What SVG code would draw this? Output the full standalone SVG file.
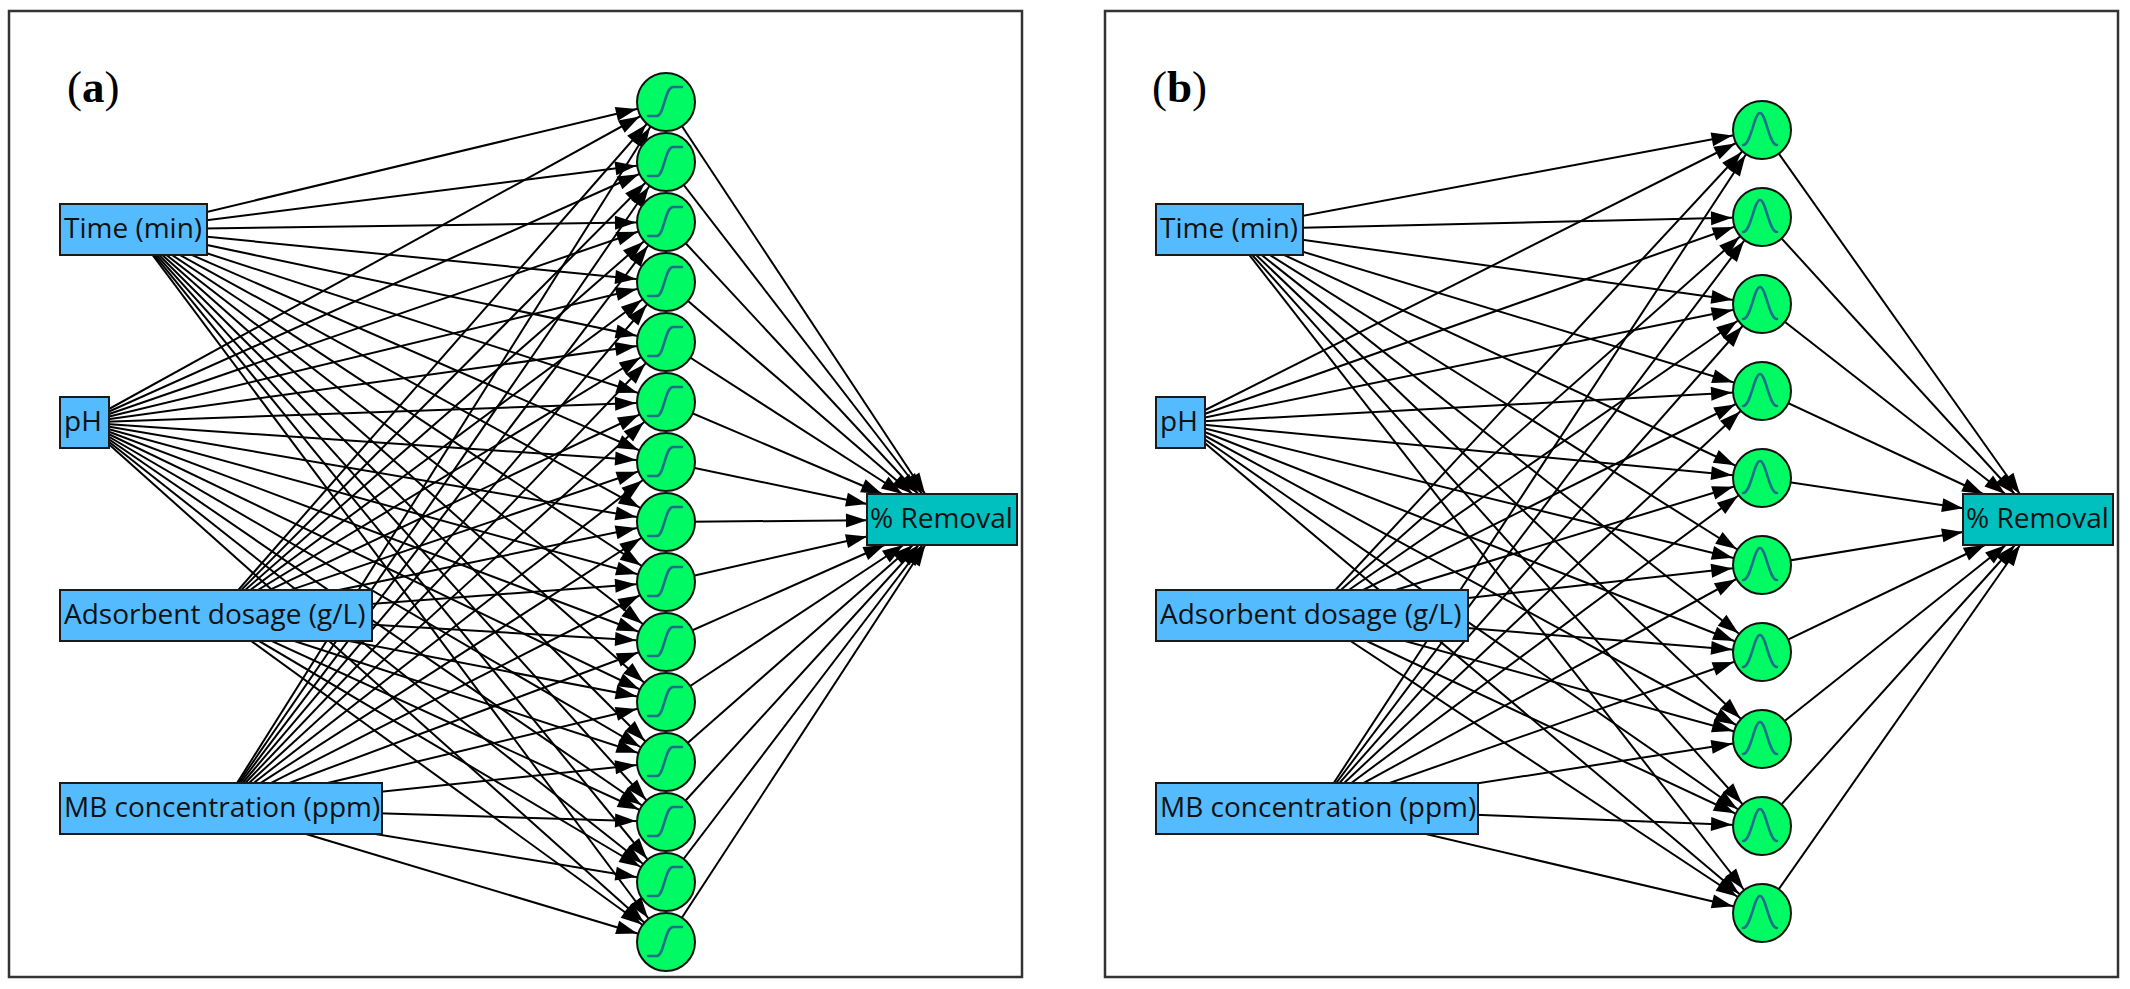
<svg xmlns="http://www.w3.org/2000/svg" xmlns:xlink="http://www.w3.org/1999/xlink" width="2130" height="989" viewBox="0 0 2130 989">
<style>
.frame{fill:#fff;stroke:#333;stroke-width:2.5}
.inp{fill:#55BBFF;stroke:#1a1a1a;stroke-width:2}
.out{fill:#00BFBF;stroke:#1a1a1a;stroke-width:2}
.hid{fill:#00FA64;stroke:#111;stroke-width:2}
.gl{fill:none;stroke:#1F6F8B;stroke-width:2.6;stroke-linecap:round;stroke-linejoin:round}
.lbl{font-family:"Open Sans","Noto Sans","DejaVu Sans",sans-serif;font-size:28px;fill:#111}
.pl{font-family:"Liberation Serif","Times New Roman",serif;font-size:45px;fill:#000}
#conn line{stroke:#000;stroke-width:2}
.e1{marker-end:url(#ah)}
.e2{marker-end:url(#ah2)}
</style>
<defs>
<marker id="ah" viewBox="-60 -10 70 20" markerWidth="70" markerHeight="20" refX="0" refY="0" orient="auto" markerUnits="userSpaceOnUse" overflow="visible"><path d="M-30,0 L-51,-7 L-51,7 z" fill="#000"/></marker>
<marker id="ah2" viewBox="-30 -10 40 20" markerWidth="40" markerHeight="20" refX="0" refY="0" orient="auto" markerUnits="userSpaceOnUse" overflow="visible"><path d="M0,0 L-21,-7 L-21,7 z" fill="#000"/></marker>
<path id="sg" class="gl" d="M-18,14 H-9 C-2,14 -1,-15 7,-15 H16"/>
<path id="gs" class="gl" d="M-19,15 C-11,15 -8,-17 -2,-17 C4,-17 7,15 15,15"/>
</defs>
<rect width="2130" height="989" fill="#fff"/>
<g id="frames">
<rect class="frame" x="9" y="11" width="1013" height="966"/>
<rect class="frame" x="1105" y="11" width="1013" height="966"/>
<text class="pl" x="67" y="102">(<tspan font-weight="bold">a</tspan>)</text>
<text class="pl" x="1152" y="102">(<tspan font-weight="bold">b</tspan>)</text>
</g>
<g id="conn">
<line class="e1" x1="133.5" y1="229.5" x2="666" y2="102"/>
<line class="e1" x1="133.5" y1="229.5" x2="666" y2="162"/>
<line class="e1" x1="133.5" y1="229.5" x2="666" y2="222"/>
<line class="e1" x1="133.5" y1="229.5" x2="666" y2="282"/>
<line class="e1" x1="133.5" y1="229.5" x2="666" y2="342"/>
<line class="e1" x1="133.5" y1="229.5" x2="666" y2="402"/>
<line class="e1" x1="133.5" y1="229.5" x2="666" y2="462"/>
<line class="e1" x1="133.5" y1="229.5" x2="666" y2="522"/>
<line class="e1" x1="133.5" y1="229.5" x2="666" y2="582"/>
<line class="e1" x1="133.5" y1="229.5" x2="666" y2="642"/>
<line class="e1" x1="133.5" y1="229.5" x2="666" y2="702"/>
<line class="e1" x1="133.5" y1="229.5" x2="666" y2="762"/>
<line class="e1" x1="133.5" y1="229.5" x2="666" y2="822"/>
<line class="e1" x1="133.5" y1="229.5" x2="666" y2="882"/>
<line class="e1" x1="133.5" y1="229.5" x2="666" y2="942"/>
<line class="e1" x1="84.5" y1="422.5" x2="666" y2="102"/>
<line class="e1" x1="84.5" y1="422.5" x2="666" y2="162"/>
<line class="e1" x1="84.5" y1="422.5" x2="666" y2="222"/>
<line class="e1" x1="84.5" y1="422.5" x2="666" y2="282"/>
<line class="e1" x1="84.5" y1="422.5" x2="666" y2="342"/>
<line class="e1" x1="84.5" y1="422.5" x2="666" y2="402"/>
<line class="e1" x1="84.5" y1="422.5" x2="666" y2="462"/>
<line class="e1" x1="84.5" y1="422.5" x2="666" y2="522"/>
<line class="e1" x1="84.5" y1="422.5" x2="666" y2="582"/>
<line class="e1" x1="84.5" y1="422.5" x2="666" y2="642"/>
<line class="e1" x1="84.5" y1="422.5" x2="666" y2="702"/>
<line class="e1" x1="84.5" y1="422.5" x2="666" y2="762"/>
<line class="e1" x1="84.5" y1="422.5" x2="666" y2="822"/>
<line class="e1" x1="84.5" y1="422.5" x2="666" y2="882"/>
<line class="e1" x1="84.5" y1="422.5" x2="666" y2="942"/>
<line class="e1" x1="216" y1="615.5" x2="666" y2="102"/>
<line class="e1" x1="216" y1="615.5" x2="666" y2="162"/>
<line class="e1" x1="216" y1="615.5" x2="666" y2="222"/>
<line class="e1" x1="216" y1="615.5" x2="666" y2="282"/>
<line class="e1" x1="216" y1="615.5" x2="666" y2="342"/>
<line class="e1" x1="216" y1="615.5" x2="666" y2="402"/>
<line class="e1" x1="216" y1="615.5" x2="666" y2="462"/>
<line class="e1" x1="216" y1="615.5" x2="666" y2="522"/>
<line class="e1" x1="216" y1="615.5" x2="666" y2="582"/>
<line class="e1" x1="216" y1="615.5" x2="666" y2="642"/>
<line class="e1" x1="216" y1="615.5" x2="666" y2="702"/>
<line class="e1" x1="216" y1="615.5" x2="666" y2="762"/>
<line class="e1" x1="216" y1="615.5" x2="666" y2="822"/>
<line class="e1" x1="216" y1="615.5" x2="666" y2="882"/>
<line class="e1" x1="216" y1="615.5" x2="666" y2="942"/>
<line class="e1" x1="221" y1="808.5" x2="666" y2="102"/>
<line class="e1" x1="221" y1="808.5" x2="666" y2="162"/>
<line class="e1" x1="221" y1="808.5" x2="666" y2="222"/>
<line class="e1" x1="221" y1="808.5" x2="666" y2="282"/>
<line class="e1" x1="221" y1="808.5" x2="666" y2="342"/>
<line class="e1" x1="221" y1="808.5" x2="666" y2="402"/>
<line class="e1" x1="221" y1="808.5" x2="666" y2="462"/>
<line class="e1" x1="221" y1="808.5" x2="666" y2="522"/>
<line class="e1" x1="221" y1="808.5" x2="666" y2="582"/>
<line class="e1" x1="221" y1="808.5" x2="666" y2="642"/>
<line class="e1" x1="221" y1="808.5" x2="666" y2="702"/>
<line class="e1" x1="221" y1="808.5" x2="666" y2="762"/>
<line class="e1" x1="221" y1="808.5" x2="666" y2="822"/>
<line class="e1" x1="221" y1="808.5" x2="666" y2="882"/>
<line class="e1" x1="221" y1="808.5" x2="666" y2="942"/>
<line class="e2" x1="666" y1="102" x2="925.1" y2="494"/>
<line class="e2" x1="666" y1="162" x2="922.3" y2="494"/>
<line class="e2" x1="666" y1="222" x2="918.3" y2="494"/>
<line class="e2" x1="666" y1="282" x2="912.4" y2="494"/>
<line class="e2" x1="666" y1="342" x2="902.4" y2="494"/>
<line class="e2" x1="666" y1="402" x2="882.1" y2="494"/>
<line class="e2" x1="666" y1="462" x2="867" y2="503.9"/>
<line class="e2" x1="666" y1="522" x2="867" y2="520.2"/>
<line class="e2" x1="666" y1="582" x2="867" y2="536.5"/>
<line class="e2" x1="666" y1="642" x2="884.5" y2="545"/>
<line class="e2" x1="666" y1="702" x2="903.4" y2="545"/>
<line class="e2" x1="666" y1="762" x2="913" y2="545"/>
<line class="e2" x1="666" y1="822" x2="918.7" y2="545"/>
<line class="e2" x1="666" y1="882" x2="922.6" y2="545"/>
<line class="e2" x1="666" y1="942" x2="925.3" y2="545"/>
<line class="e1" x1="1229.5" y1="229.5" x2="1762" y2="130"/>
<line class="e1" x1="1229.5" y1="229.5" x2="1762" y2="217"/>
<line class="e1" x1="1229.5" y1="229.5" x2="1762" y2="304"/>
<line class="e1" x1="1229.5" y1="229.5" x2="1762" y2="391"/>
<line class="e1" x1="1229.5" y1="229.5" x2="1762" y2="478"/>
<line class="e1" x1="1229.5" y1="229.5" x2="1762" y2="565"/>
<line class="e1" x1="1229.5" y1="229.5" x2="1762" y2="652"/>
<line class="e1" x1="1229.5" y1="229.5" x2="1762" y2="739"/>
<line class="e1" x1="1229.5" y1="229.5" x2="1762" y2="826"/>
<line class="e1" x1="1229.5" y1="229.5" x2="1762" y2="913"/>
<line class="e1" x1="1180.5" y1="422.5" x2="1762" y2="130"/>
<line class="e1" x1="1180.5" y1="422.5" x2="1762" y2="217"/>
<line class="e1" x1="1180.5" y1="422.5" x2="1762" y2="304"/>
<line class="e1" x1="1180.5" y1="422.5" x2="1762" y2="391"/>
<line class="e1" x1="1180.5" y1="422.5" x2="1762" y2="478"/>
<line class="e1" x1="1180.5" y1="422.5" x2="1762" y2="565"/>
<line class="e1" x1="1180.5" y1="422.5" x2="1762" y2="652"/>
<line class="e1" x1="1180.5" y1="422.5" x2="1762" y2="739"/>
<line class="e1" x1="1180.5" y1="422.5" x2="1762" y2="826"/>
<line class="e1" x1="1180.5" y1="422.5" x2="1762" y2="913"/>
<line class="e1" x1="1312" y1="615.5" x2="1762" y2="130"/>
<line class="e1" x1="1312" y1="615.5" x2="1762" y2="217"/>
<line class="e1" x1="1312" y1="615.5" x2="1762" y2="304"/>
<line class="e1" x1="1312" y1="615.5" x2="1762" y2="391"/>
<line class="e1" x1="1312" y1="615.5" x2="1762" y2="478"/>
<line class="e1" x1="1312" y1="615.5" x2="1762" y2="565"/>
<line class="e1" x1="1312" y1="615.5" x2="1762" y2="652"/>
<line class="e1" x1="1312" y1="615.5" x2="1762" y2="739"/>
<line class="e1" x1="1312" y1="615.5" x2="1762" y2="826"/>
<line class="e1" x1="1312" y1="615.5" x2="1762" y2="913"/>
<line class="e1" x1="1317" y1="808.5" x2="1762" y2="130"/>
<line class="e1" x1="1317" y1="808.5" x2="1762" y2="217"/>
<line class="e1" x1="1317" y1="808.5" x2="1762" y2="304"/>
<line class="e1" x1="1317" y1="808.5" x2="1762" y2="391"/>
<line class="e1" x1="1317" y1="808.5" x2="1762" y2="478"/>
<line class="e1" x1="1317" y1="808.5" x2="1762" y2="565"/>
<line class="e1" x1="1317" y1="808.5" x2="1762" y2="652"/>
<line class="e1" x1="1317" y1="808.5" x2="1762" y2="739"/>
<line class="e1" x1="1317" y1="808.5" x2="1762" y2="826"/>
<line class="e1" x1="1317" y1="808.5" x2="1762" y2="913"/>
<line class="e2" x1="1762" y1="130" x2="2019.9" y2="494"/>
<line class="e2" x1="1762" y1="217" x2="2014.7" y2="494"/>
<line class="e2" x1="1762" y1="304" x2="2005.3" y2="494"/>
<line class="e2" x1="1762" y1="391" x2="1983.2" y2="494"/>
<line class="e2" x1="1762" y1="478" x2="1963" y2="508.2"/>
<line class="e2" x1="1762" y1="565" x2="1963" y2="531.9"/>
<line class="e2" x1="1762" y1="652" x2="1984.9" y2="545"/>
<line class="e2" x1="1762" y1="739" x2="2005.9" y2="545"/>
<line class="e2" x1="1762" y1="826" x2="2015" y2="545"/>
<line class="e2" x1="1762" y1="913" x2="2020.1" y2="545"/>
</g>
<g id="a_time"><rect class="inp" x="60" y="204" width="147" height="51"/><text class="lbl" x="64" y="238">Time (min)</text></g>
<g id="a_ph"><rect class="inp" x="60" y="397" width="49" height="51"/><text class="lbl" x="64" y="431">pH</text></g>
<g id="a_ads"><rect class="inp" x="60" y="590" width="312" height="51"/><text class="lbl" x="64" y="624">Adsorbent dosage (g/L)</text></g>
<g id="a_mb"><rect class="inp" x="60" y="783" width="322" height="51"/><text class="lbl" x="64" y="817">MB concentration (ppm)</text></g>
<g id="a_h1"><circle class="hid" cx="666" cy="102" r="29"/><use xlink:href="#sg" x="666" y="102"/></g>
<g id="a_h2"><circle class="hid" cx="666" cy="162" r="29"/><use xlink:href="#sg" x="666" y="162"/></g>
<g id="a_h3"><circle class="hid" cx="666" cy="222" r="29"/><use xlink:href="#sg" x="666" y="222"/></g>
<g id="a_h4"><circle class="hid" cx="666" cy="282" r="29"/><use xlink:href="#sg" x="666" y="282"/></g>
<g id="a_h5"><circle class="hid" cx="666" cy="342" r="29"/><use xlink:href="#sg" x="666" y="342"/></g>
<g id="a_h6"><circle class="hid" cx="666" cy="402" r="29"/><use xlink:href="#sg" x="666" y="402"/></g>
<g id="a_h7"><circle class="hid" cx="666" cy="462" r="29"/><use xlink:href="#sg" x="666" y="462"/></g>
<g id="a_h8"><circle class="hid" cx="666" cy="522" r="29"/><use xlink:href="#sg" x="666" y="522"/></g>
<g id="a_h9"><circle class="hid" cx="666" cy="582" r="29"/><use xlink:href="#sg" x="666" y="582"/></g>
<g id="a_h10"><circle class="hid" cx="666" cy="642" r="29"/><use xlink:href="#sg" x="666" y="642"/></g>
<g id="a_h11"><circle class="hid" cx="666" cy="702" r="29"/><use xlink:href="#sg" x="666" y="702"/></g>
<g id="a_h12"><circle class="hid" cx="666" cy="762" r="29"/><use xlink:href="#sg" x="666" y="762"/></g>
<g id="a_h13"><circle class="hid" cx="666" cy="822" r="29"/><use xlink:href="#sg" x="666" y="822"/></g>
<g id="a_h14"><circle class="hid" cx="666" cy="882" r="29"/><use xlink:href="#sg" x="666" y="882"/></g>
<g id="a_h15"><circle class="hid" cx="666" cy="942" r="29"/><use xlink:href="#sg" x="666" y="942"/></g>
<g id="a_out"><rect class="out" x="867" y="494" width="150" height="51"/><text class="lbl" x="870" y="528">% Removal</text></g>
<g id="b_time"><rect class="inp" x="1156" y="204" width="147" height="51"/><text class="lbl" x="1160" y="238">Time (min)</text></g>
<g id="b_ph"><rect class="inp" x="1156" y="397" width="49" height="51"/><text class="lbl" x="1160" y="431">pH</text></g>
<g id="b_ads"><rect class="inp" x="1156" y="590" width="312" height="51"/><text class="lbl" x="1160" y="624">Adsorbent dosage (g/L)</text></g>
<g id="b_mb"><rect class="inp" x="1156" y="783" width="322" height="51"/><text class="lbl" x="1160" y="817">MB concentration (ppm)</text></g>
<g id="b_h1"><circle class="hid" cx="1762" cy="130" r="29"/><use xlink:href="#gs" x="1762" y="130"/></g>
<g id="b_h2"><circle class="hid" cx="1762" cy="217" r="29"/><use xlink:href="#gs" x="1762" y="217"/></g>
<g id="b_h3"><circle class="hid" cx="1762" cy="304" r="29"/><use xlink:href="#gs" x="1762" y="304"/></g>
<g id="b_h4"><circle class="hid" cx="1762" cy="391" r="29"/><use xlink:href="#gs" x="1762" y="391"/></g>
<g id="b_h5"><circle class="hid" cx="1762" cy="478" r="29"/><use xlink:href="#gs" x="1762" y="478"/></g>
<g id="b_h6"><circle class="hid" cx="1762" cy="565" r="29"/><use xlink:href="#gs" x="1762" y="565"/></g>
<g id="b_h7"><circle class="hid" cx="1762" cy="652" r="29"/><use xlink:href="#gs" x="1762" y="652"/></g>
<g id="b_h8"><circle class="hid" cx="1762" cy="739" r="29"/><use xlink:href="#gs" x="1762" y="739"/></g>
<g id="b_h9"><circle class="hid" cx="1762" cy="826" r="29"/><use xlink:href="#gs" x="1762" y="826"/></g>
<g id="b_h10"><circle class="hid" cx="1762" cy="913" r="29"/><use xlink:href="#gs" x="1762" y="913"/></g>
<g id="b_out"><rect class="out" x="1963" y="494" width="150" height="51"/><text class="lbl" x="1966" y="528">% Removal</text></g>
</svg>
